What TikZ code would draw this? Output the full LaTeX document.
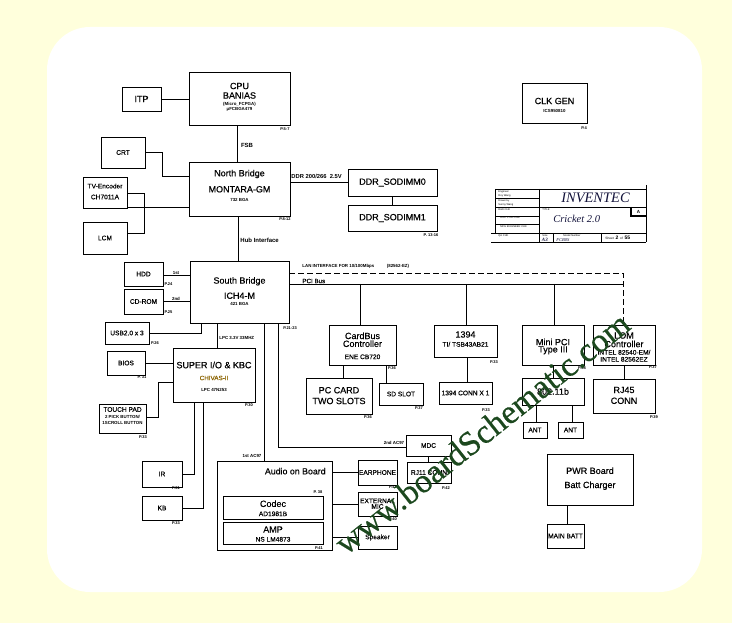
\documentclass[tikz,border=0pt]{standalone}
\usepackage{fontspec}
\setmainfont{Liberation Sans}
\newfontfamily\hv{Liberation Sans}[FakeBold=0.35]
\newfontfamily\serifit{Liberation Serif}
\newfontfamily\wmfont{Liberation Serif}[FakeBold=0.3]
\newcommand{\fsz}[1]{\fontsize{#1}{#1}\selectfont}
\newcommand{\Bx}[5]{\node[bx, minimum width={#4-#2}, minimum height={#5-#3}] (#1) at ({(#2+#4)/2},{(#3+#5)/2}) {};}
\definecolor{cream}{RGB}{255,255,220}
\definecolor{wmgreen}{RGB}{28,72,30}
\definecolor{chiv}{RGB}{140,100,0}
\definecolor{navy}{RGB}{20,20,60}
\begin{document}
\begin{tikzpicture}[x=1pt,y=-1pt,line width=0.9pt,
  bx/.style={draw, line width=0.9pt, inner sep=0pt},
  t/.style={inner sep=0pt},
  big/.style={t, font=\hv\fsz{9}},
  mid/.style={t, font=\hv\fsz{6.6}},
  sm/.style={t, font=\bfseries\fsz{4.4}},
  pg/.style={t, font=\bfseries\fsz{4}},
  tb/.style={t, font=\fsz{2.6}, anchor=west},
  lan/.style={dash pattern=on 6pt off 3pt}]
\useasboundingbox (0,0) rectangle (732,623);
\fill[cream] (0,0) rectangle (732,623);
\fill[white, rounded corners=43pt] (47,27) rectangle (702,592);

% ---------- boxes ----------
\Bx{cpu}{189}{72}{290}{125}
\Bx{itp}{122}{87}{161}{111}
\Bx{crt}{101}{137}{145}{168}
\Bx{nb}{189}{162}{290}{216}
\Bx{tv}{83}{177}{127}{208}
\Bx{lcm}{83}{222}{127}{254}
\Bx{ddra}{348}{169}{437}{196}
\Bx{ddrb}{348}{205}{437}{231}
\Bx{clk}{522}{83}{587}{123}
\Bx{sb}{190}{261}{289}{323}
\Bx{hdd}{124}{262}{163}{286}
\Bx{cdrom}{124}{289}{163}{314}
\Bx{usb}{105}{322}{149}{344}
\Bx{bios}{107}{351}{145}{375}
\Bx{sio}{173}{348}{255}{402}
\Bx{tp}{99}{404}{146}{433}
\Bx{ir}{142}{461}{182}{487}
\Bx{kb}{142}{496}{182}{520}
\Bx{audio}{217}{461}{332}{550}
\Bx{codec}{223}{496}{323}{519}
\Bx{amp}{223}{522}{323}{544}
\Bx{ear}{358}{460}{397}{485}
\Bx{mic}{358}{492}{397}{516}
\Bx{spk}{358}{526}{397}{549}
\Bx{mdc}{406}{435}{451}{456}
\Bx{rjel}{407}{462}{451}{483}
\Bx{cb}{329}{325}{396}{365}
\Bx{pcc}{306}{378}{372}{414}
\Bx{sd}{379}{383}{423}{405}
\Bx{fw}{434}{325}{497}{357}
\Bx{fwc}{439}{382}{492}{404}
\Bx{mpci}{522}{325}{584}{365}
\Bx{wlan}{522}{378}{584}{405}
\Bx{anta}{523}{422}{547}{438}
\Bx{antb}{558}{422}{583}{438}
\Bx{lom}{593}{325}{655}{365}
\Bx{rjf}{593}{379}{655}{413}
\Bx{pwr}{547}{454}{633}{505}
\Bx{batt}{547}{524}{584}{548}

% ---------- box texts ----------
\node[big] (cpuA) at (239.5,86) {CPU};
\node[big] (cpuB) at (239.5,95.5) {BANIAS};
\node[sm] (cpuC) at (239.5,104.5) {(Micro\_FCPGA)};
\node[sm] (cpuD) at (239.5,109) {µFCBGA479};
\node[big] (itpT) at (141.5,99) {ITP};
\node[mid] (crtT) at (123,152.5) {CRT};
\node[big] (nbA) at (239.5,174) {North Bridge};
\node[big] (nbB) at (239.5,189.3) {MONTARA-GM};
\node[sm] (nbC) at (239.5,200.3) {732 BGA};
\node[mid] (tvA) at (105,186) {TV-Encoder};
\node[mid] (tvB) at (105,197) {CH7011A};
\node[mid] (lcmT) at (105,238) {LCM};
\node[big] (ddraT) at (392.5,182.5) {DDR\_SODIMM0};
\node[big] (ddrbT) at (392.5,218) {DDR\_SODIMM1};
\node[big] (clkA) at (554.5,101) {CLK GEN};
\node[sm] (clkB) at (554.5,110.7) {ICS950810};
\node[big] (sbA) at (239.5,281.3) {South Bridge};
\node[big] (sbB) at (239.5,295.7) {ICH4-M};
\node[sm] (sbC) at (239.5,304) {421 BGA};
\node[mid] (hddT) at (143.5,274) {HDD};
\node[mid] (cdT) at (143.5,301.5) {CD-ROM};
\node[mid] (usbT) at (127,333) {USB2.0 x 3};
\node[mid] (biosT) at (126,363) {BIOS};
\node[big] (sioA) at (214,365) {SUPER I/O \& KBC};
\node[t, font=\hv\fsz{6.3}, text=chiv] (sioB) at (214,378) {CHIVAS-II};
\node[sm] (sioC) at (214,390) {LPC 47N253};
\node[mid] (tpA) at (122.5,409.5) {TOUCH PAD};
\node[sm] (tpB) at (122.5,417.3) {2 PICK BUTTON/};
\node[sm] (tpC) at (122.5,423.3) {1SCROLL BUTTON};
\node[mid] (irT) at (162,474) {IR};
\node[mid] (kbT) at (162,508) {KB};
\node[t, font=\hv\fsz{8.8}] (audT) at (295.3,471.2) {Audio on Board};
\node[big] (codA) at (273,503.7) {Codec};
\node[mid] (codB) at (273,513.8) {AD1981B};
\node[big] (ampA) at (273,529.5) {AMP};
\node[mid] (ampB) at (273,539.3) {NS LM4873};
\node[mid] (earT) at (377.5,472.5) {EARPHONE};
\node[mid] (micA) at (377.5,500.8) {EXTERNAL};
\node[mid] (micB) at (377.5,506.5) {MIC};
\node[mid] (spkT) at (377.5,537.5) {Speaker};
\node[mid] (mdcT) at (428.5,445.5) {MDC};
\node[mid] (rjelT) at (429,472.5) {RJ11 CONN};
\node[big] (cbA) at (362.5,335.8) {CardBus};
\node[big] (cbB) at (362.5,343.7) {Controller};
\node[mid] (cbC) at (362.5,356.8) {ENE CB720};
\node[big] (pccA) at (339,390.2) {PC CARD};
\node[big] (pccB) at (339,401) {TWO SLOTS};
\node[mid] (sdT) at (401,394) {SD SLOT};
\node[big] (fwA) at (465.5,334.5) {1394};
\node[mid] (fwB) at (465.5,344.3) {TI/ TSB43AB21};
\node[mid] (fwcT) at (465.5,393) {1394 CONN X 1};
\node[big] (mpA) at (553,342) {Mini PCI};
\node[big] (mpB) at (553,350.3) {Type III};
\node[big] (wlT) at (553,391.5) {802.11b};
\node[mid] (antaT) at (535,430) {ANT};
\node[mid] (antbT) at (570.5,430) {ANT};
\node[big] (lomA) at (624,335.5) {LOM};
\node[big] (lomB) at (624,344) {Controller};
\node[mid] (lomC) at (624,352.3) {INTEL 82540-EM/};
\node[mid] (lomD) at (624,359.3) {INTEL 82562EZ};
\node[big] (rjfA) at (624,390) {RJ45};
\node[big] (rjfB) at (624,400.8) {CONN};
\node[big] (pwrA) at (590,470.7) {PWR Board};
\node[big] (pwrB) at (590,485.7) {Batt Charger};
\node[mid] (battT) at (565.5,536) {MAIN BATT};

% ---------- page refs ----------
\node[pg] (p1) at (285,129) {P.5-7};
\node[pg] (p2) at (285,219) {P.8-12};
\node[pg] (p3) at (431,235) {P. 13-16};
\node[pg] (p4) at (584,128) {P.4};
\node[pg] (p5) at (290,328) {P.21-23};
\node[pg] (p6) at (168.5,284) {P.24};
\node[pg] (p7) at (168.5,312) {P.25};
\node[pg] (p8) at (155,343) {P.26};
\node[pg] (p9) at (142,377) {P. 31};
\node[pg] (p10) at (249,405) {P.30};
\node[pg] (p11) at (143,437) {P.33};
\node[pg] (p12) at (176,488) {P.31};
\node[pg] (p13) at (176,523) {P.33};
\node[pg] (p14) at (318,492) {P. 38};
\node[pg] (p15) at (319,548) {P.41};
\node[pg] (p16) at (393,487) {P.41};
\node[pg] (p17) at (393,519) {P.40};
\node[pg] (p18) at (446,488) {P.42};
\node[pg] (p19) at (392,368) {P.36};
\node[pg] (p20) at (368,417) {P.36};
\node[pg] (p21) at (419,408) {P.37};
\node[pg] (p22) at (494,362) {P.33};
\node[pg] (p23) at (486,410) {P.33};
\node[pg] (p24) at (582,368) {P.38};
\node[pg] (p25) at (653,367) {P.37};
\node[pg] (p26) at (654,417) {P.39};

% ---------- connectors ----------
\draw (itp.east) -- (cpu.west |- itp.east);
\draw ([xshift=-2.5pt]cpu.south) -- ([xshift=-2.5pt]nb.north);
\draw (crt.east) -- (162,152.5) -- (162,176) -- (nb.west |- 162,176);
\draw (tv.east |- 0,193) -- (144,193) -- (144,233) -- (lcm.east |- 0,233);
\draw (tv.east |- 0,207) -- (nb.west |- 0,207);
\draw ([xshift=-1.5pt]nb.south) -- ([xshift=-1.5pt]sb.north);
\draw (nb.east |- ddra.west) -- (ddra.west);
\draw (ddra.south) -- (ddrb.north);
\draw (hdd.east |- 0,275) -- (sb.west |- 0,275);
\draw (cdrom.east) -- (sb.west |- cdrom.east);
\draw (usb.east) -- (201,333) -- (201,0 |- sb.south);
\draw (bios.east) -- (sio.west |- bios.east);
\draw (217,0 |- sb.south) -- (217,0 |- sio.north);
\draw (tp.east |- 0,417) -- (158,417) -- (158,382) -- (sio.west |- 0,382);
\draw (ir.east) -- (194,474) -- (194,0 |- sio.south);
\draw (kb.east) -- (203,508) -- (203,0 |- sio.south);
\draw (264,0 |- sb.south) -- (264,0 |- audio.north);
\draw (278,0 |- sb.south) -- (278,447) -- (mdc.west |- 0,447);
\draw ([xshift=-0.5pt]mdc.south) -- ([xshift=-1pt]rjel.north);
\draw (audio.east |- ear.west) -- (ear.west);
\draw (audio.east |- mic.west) -- (mic.west);
\draw (audio.east |- spk.west) -- (spk.west);
\draw[lan] (sb.east |- 0,273) -- (623,273) -- (623,0 |- lom.north);
\draw (sb.east |- 0,284) -- (623,284);
\draw (360,284) -- (360,0 |- cb.north);
\draw (466,284) -- (466,0 |- fw.north);
\draw (554,284) -- (554,0 |- mpci.north);
\draw (343,0 |- cb.south) -- (343,0 |- pcc.north);
\draw (386,0 |- cb.south) -- (386,0 |- sd.north);
\draw (467,0 |- fw.south) -- (467,0 |- fwc.north);
\draw (mpci.south) -- (wlan.north);
\draw (536,0 |- wlan.south) -- (536,0 |- anta.north);
\draw (572,0 |- wlan.south) -- (572,0 |- antb.north);
\draw (lom.south) -- (rjf.north);
\draw (567,0 |- pwr.south) -- (567,0 |- batt.north);

% ---------- connector labels ----------
\node[t, font=\bfseries\fsz{6}] (fsbL) at (247,145) {FSB};
\node[t, font=\bfseries\fsz{6}, anchor=west] (hubL) at (240,240) {Hub Interface};
\node[t, font=\bfseries\fsz{5.8}, anchor=west] (ddrL) at (291,176) {DDR 200/266\ \ 2.5V};
\node[sm] (l1st) at (176,273) {1st};
\node[sm] (l2nd) at (176,299) {2nd};
\node[sm, anchor=west] (lpcL) at (219,338) {LPC 3.3V 33MHZ};
\node[sm] (ac1) at (252,456) {1st AC97};
\node[sm] (ac2) at (394,443) {2nd AC97};
\node[sm, anchor=west] (lanL) at (302,266) {LAN INTERFACE FOR 10/100Mbps};
\node[sm] (lanM) at (398,266) {(82562-EZ)};
\node[t, font=\hv\fsz{6.2}, anchor=west] (pciL) at (302,281) {PCI Bus};

% ---------- title block ----------
\begin{scope}[line width=0.6pt]
\draw (495,189) -- (646,189);
\draw (646,185) -- (646,242);
\draw (495,189) -- (495,233);
\draw (491,233) -- (646,233);
\draw (491,242) -- (646,242);
\draw (539,189) -- (539,242);
\draw (539,207) -- (646,207);
\draw (495,198) -- (539,198);
\draw (495,207) -- (539,207);
\draw (495,216) -- (539,216);
\draw (495,224) -- (539,224);
\draw (553,233) -- (553,242);
\draw (601,233) -- (601,242);
\draw[line width=1.1pt] (631,207) -- (631,216) -- (646,216);
\end{scope}
\node[tb] (tb1) at (498,191.5) {Engineer};
\node[tb] (tb2) at (498,195.5) {Roy Wang};
\node[tb] (tb3) at (498,200.5) {Drawn by};
\node[tb] (tb4) at (498,204.5) {Sunny Wang};
\node[tb] (tb5) at (498,209.5) {R\&D CHK};
\node[tb] (tb6) at (500,218) {DOC CTRL CHK};
\node[tb] (tb7) at (500,226.5) {MFG ENGINEER CHK};
\node[tb] (tb8) at (498,235.5) {QA CHK};
\node[tb] (tb9) at (542,210) {TITLE};
\node[tb] (tb10) at (542,235.5) {Size};
\node[t, font=\serifit\bfseries\itshape\fsz{5}, anchor=west, text=navy] (tb11) at (541.5,239.5) {A3};
\node[tb] (tb12) at (563,235.5) {Model Number};
\node[t, font=\serifit\itshape\fsz{4.5}, anchor=west, text=navy] (tb13) at (556,240) {FCB0S};
\node[t, font=\fsz{3.2}, anchor=west] (tb14) at (605,237.5) {Sheet\ \ \textbf{\fsz{5}2}\ \ of\ \ \textbf{\fsz{5}55}};
\node[t, font=\bfseries\fsz{4.5}] (tb15) at (638.5,211.5) {A};
\node[t, font=\serifit\itshape\fsz{14.5}, text=navy] (inv) at (595.5,197.5) {INVENTEC};
\node[t, font=\serifit\itshape\fsz{10.5}, text=navy] (cri) at (576.7,219) {Cricket 2.0};

% ---------- watermark ----------
\node[t, rotate=38.5, text=wmgreen, font=\wmfont\fsz{34}] (wm) at (482,433) {www.boardSchematic.com};
\end{tikzpicture}
\end{document}
